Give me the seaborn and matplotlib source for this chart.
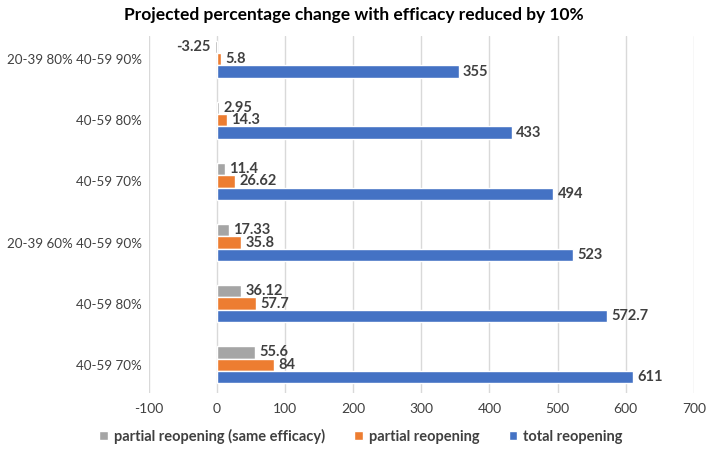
import pandas as pd
import matplotlib.pyplot as plt
import seaborn as sns

# data (top to bottom)
scenarios = ['20-39 80% 40-59 90%', '40-59 80%', '40-59 70%',
             '20-39 60% 40-59 90%', '40-59 80%', '40-59 70%']
same_efficacy = [-3.25, 2.95, 11.4, 17.33, 36.12, 55.6]
partial = [5.8, 14.3, 26.62, 35.8, 57.7, 84]
total = [355, 433, 494, 523, 572.7, 611]
series = ['partial reopening (same efficacy)', 'partial reopening', 'total reopening']
colors = ['#A5A5A5', '#ED7D31', '#4472C4']
value_labels = {
    series[0]: ['-3.25', '2.95', '11.4', '17.33', '36.12', '55.6'],
    series[1]: ['5.8', '14.3', '26.62', '35.8', '57.7', '84'],
    series[2]: ['355', '433', '494', '523', '572.7', '611'],
}

rows = []
for name, vals in zip(series, [same_efficacy, partial, total]):
    for i, v in enumerate(vals):
        rows.append({'pos': str(i), 'series': name, 'value': v})
df = pd.DataFrame(rows)

sns.set_style('white')
plt.rcParams['font.family'] = ['Lato', 'DejaVu Sans']
plt.rcParams['axes.unicode_minus'] = False

fig = plt.figure(figsize=(7.08, 4.49), dpi=100)
ax = fig.add_axes([0.21, 0.125, 0.77, 0.795])

sns.barplot(data=df, x='value', y='pos', hue='series', hue_order=series,
            order=[str(i) for i in range(6)], palette=colors, orient='h',
            width=0.61, gap=0, saturation=1, ax=ax, errorbar=None, zorder=3)

# value labels
for cont, name in zip(ax.containers, series):
    for bar, lab in zip(cont, value_labels[name]):
        w = bar.get_width()
        y = bar.get_y() + bar.get_height() / 2
        off, ha = (-3, 'right') if w < 0 else (3, 'left')
        ax.annotate(lab, (w, y), xytext=(off, 0), textcoords='offset points',
                    ha=ha, va='center', fontsize=10.5, fontweight='bold', color='#404040')

ax.set_xlim(-100, 700)
ax.set_ylim(5.46, -0.38)
ax.set_xticks(range(-100, 701, 100))
ax.set_yticks(range(6))
ax.set_yticklabels(scenarios)
ax.tick_params(axis='both', length=0, labelsize=10, colors='#404040')
ax.tick_params(axis='y', labelsize=9.6, pad=5)
ax.tick_params(axis='x', pad=7)
ax.xaxis.grid(True, color='#D9D9D9', linewidth=1, zorder=0)
ax.set_axisbelow(True)
for s in ax.spines.values():
    s.set_visible(False)
ax.set_xlabel('')
ax.set_ylabel('')

handles, labels = ax.get_legend_handles_labels()
ax.get_legend().remove()
fig.legend(handles, labels, loc='lower center', bbox_to_anchor=(0.51, 0.005), ncol=3,
           frameon=False, handlelength=0.6, handleheight=0.6, handletextpad=0.4,
           columnspacing=2.0, borderpad=0.2, borderaxespad=0,
           prop={'size': 10.5, 'weight': 'bold'}, labelcolor='#404040')

fig.suptitle('Projected percentage change with efficacy reduced by 10%',
             x=0.5, y=0.985, fontsize=12.5, fontweight='bold', color='#000000')

plt.savefig('out.png', dpi=100)
